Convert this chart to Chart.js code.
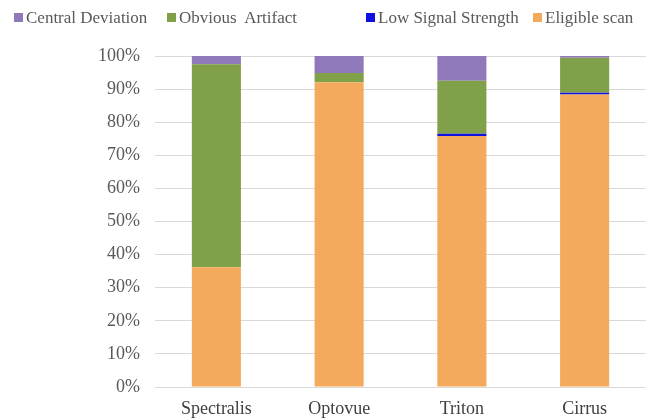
<!DOCTYPE html>
<html>
<head>
<meta charset="utf-8">
<script src="https://cdn.jsdelivr.net/npm/chart.js@4"></script>
<style>
html,body{margin:0;padding:0;background:#fff;}
#wrap{position:relative;width:646px;height:420px;}
#legend{position:absolute;top:7px;left:0;width:646px;height:22px;font-family:"Liberation Serif",serif;font-size:17px;line-height:22px;color:#595959;}
.li{position:absolute;top:0;white-space:pre;}
.sw{display:inline-block;width:9px;height:9px;margin-right:3px;vertical-align:1px;}
</style>
</head>
<body>
<div id="wrap">
<canvas id="c" width="646" height="420"></canvas>
<div id="legend"></div>
</div>
<script>
const categories = ["Spectralis", "Optovue", "Triton", "Cirrus"];
const eligibleScan = [36.2, 92.1, 75.8, 88.4];
const lowSignal = [0, 0, 0.7, 0.5];
const obviousArtifact = [61.3, 2.8, 16.0, 10.6];
const centralDeviation = [2.5, 5.1, 7.5, 0.5];
const yTicks = [0,10,20,30,40,50,60,70,80,90,100];

const colors = {eligible:"#f3aa5d", low:"#1010e0", obvious:"#80a04a", central:"#9079bb"};

const datasets = [
  {label:"Eligible scan", data:eligibleScan, backgroundColor:colors.eligible},
  {label:"Low Signal Strength", data:lowSignal, backgroundColor:colors.low},
  {label:"Obvious  Artifact", data:obviousArtifact, backgroundColor:colors.obvious},
  {label:"Central Deviation", data:centralDeviation, backgroundColor:colors.central}
];

new Chart(document.getElementById("c"), {
  type:"bar",
  data:{labels:categories, datasets:datasets},
  options:{
    responsive:false,
    animation:false,
    layout:{padding:{top:56,right:0,left:0,bottom:1}},
    plugins:{legend:{display:false}, tooltip:{enabled:false}},
    datasets:{bar:{barPercentage:0.4, categoryPercentage:1}},
    scales:{
      x:{stacked:true,
         afterFit:(ax)=>{ax.height = 32;},
         grid:{display:false, drawTicks:false},
         border:{display:false},
         ticks:{color:"#404040", font:{family:"Liberation Serif", size:18}, padding:11, maxRotation:0}},
      y:{stacked:true, min:0, max:100,
         afterBuildTicks:(ax)=>{ax.ticks = yTicks.map(v=>({value:v}));},
         afterFit:(ax)=>{ax.width = 155;},
         grid:{color:"#d9d9d9", drawTicks:false},
         border:{display:false},
         ticks:{color:"#595959", font:{family:"Liberation Serif", size:18}, padding:15,
                callback:(v)=>v+"%"}}
    }
  }
});

const legendItems = [
  {label:"Central Deviation", color:colors.central, x:14},
  {label:"Obvious  Artifact", color:colors.obvious, x:167},
  {label:"Low Signal Strength", color:colors.low, x:366},
  {label:"Eligible scan", color:colors.eligible, x:533}
];
const lg = document.getElementById("legend");
legendItems.forEach(it=>{
  const d = document.createElement("div");
  d.className="li"; d.style.left=it.x+"px";
  const s = document.createElement("span"); s.className="sw"; s.style.background=it.color;
  d.appendChild(s); d.appendChild(document.createTextNode(it.label));
  lg.appendChild(d);
});
</script>
</body>
</html>
